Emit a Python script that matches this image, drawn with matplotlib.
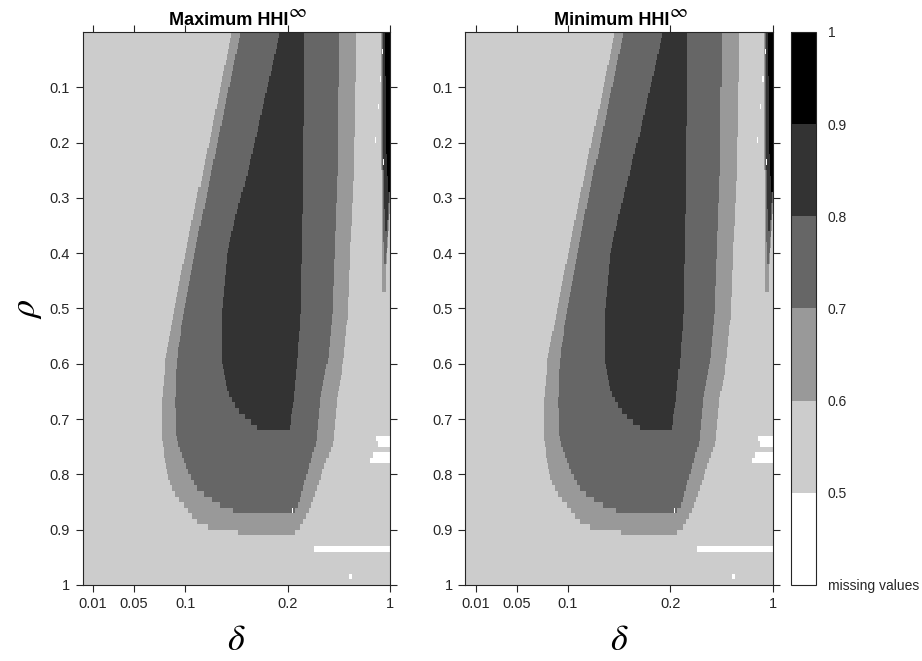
import numpy as np
import matplotlib.pyplot as plt
from matplotlib.colors import ListedColormap, BoundaryNorm
from matplotlib.cm import ScalarMappable
from matplotlib.path import Path

plt.rcParams['font.family'] = ['Liberation Sans', 'DejaVu Sans']
plt.rcParams['mathtext.fontset'] = 'stix'
plt.rcParams['font.size'] = 10

# grid: 300 delta columns x 100 rho rows
n_delta = 300
n_rho = 100
delta_tick_pos = [10, 50, 100, 200, 300]
delta_tick_labels = ['0.01', '0.05', '0.1', '0.2', '1']
rho_ticks = [0.1, 0.2, 0.3, 0.4, 0.5, 0.6, 0.7, 0.8, 0.9, 1.0]
rho_tick_labels = ['0.1', '0.2', '0.3', '0.4', '0.5', '0.6', '0.7', '0.8', '0.9', '1']

# HHI bins and their grays
levels = [0.4, 0.5, 0.6, 0.7, 0.8, 0.9, 1.0]
grays = ['#ffffff', '#cccccc', '#999999', '#666666', '#333333', '#000000']
level_labels = ['missing values', '0.5', '0.6', '0.7', '0.8', '0.9', '1']
background_value = 0.55

# region outlines (delta column, rho), left edge top->bottom, right edge top->bottom
hhi06_left = [(145.8, 0.0), (116.4, 0.26), (101.8, 0.385), (88.1, 0.51), (80.5, 0.593),
              (77.3, 0.665), (77.3, 0.74), (82.2, 0.798), (87.1, 0.828), (100.1, 0.858),
              (109.9, 0.882), (119.7, 0.894), (136.0, 0.90), (168.6, 0.91)]
hhi06_right = [(267.4, 0.0), (264.8, 0.26), (261.5, 0.385), (258.8, 0.51), (254.4, 0.593),
               (248.5, 0.665), (244.7, 0.74), (233.9, 0.798), (229.0, 0.828), (222.4, 0.858),
               (215.9, 0.882), (211.0, 0.897), (204.5, 0.91)]
hhi07_left = [(154.6, 0.0), (125.7, 0.25), (110.9, 0.385), (98.4, 0.51), (92.0, 0.593),
              (90.3, 0.665), (91.6, 0.74), (103.3, 0.798), (113.1, 0.828), (136.0, 0.858),
              (155.6, 0.87)]
hhi07_right = [(250.1, 0.0), (248.5, 0.26), (245.9, 0.385), (243.6, 0.51), (239.3, 0.593),
               (232.2, 0.665), (228.3, 0.74), (219.2, 0.798), (214.3, 0.828), (209.4, 0.858),
               (204.5, 0.87)]
hhi08_left = [(193.1, 0.0), (160.0, 0.26), (142.5, 0.385), (136.0, 0.51), (136.0, 0.593),
              (140.9, 0.647), (145.8, 0.665), (152.3, 0.684), (162.0, 0.702), (170.2, 0.714),
              (171.8, 0.72)]
hhi08_right = [(215.9, 0.0), (215.3, 0.26), (213.9, 0.385), (212.6, 0.51), (209.4, 0.593),
               (206.0, 0.665), (204.5, 0.684), (201.2, 0.72)]

# thin ridge near delta = 1
ridge06_left = [(290.5, 0.0), (291.5, 0.25), (292.0, 0.40), (292.5, 0.47)]
ridge06_right = [(300.5, 0.0), (300.5, 0.30), (297.0, 0.40), (295.5, 0.47)]
ridge07_left = [(291.5, 0.0), (292.5, 0.25), (293.5, 0.38), (294.5, 0.42)]
ridge07_right = [(300.5, 0.0), (300.5, 0.28), (298.0, 0.36), (296.0, 0.42)]
ridge08_left = [(293.0, 0.0), (293.5, 0.25), (295.0, 0.36)]
ridge08_right = [(300.5, 0.0), (300.5, 0.25), (297.0, 0.36)]
ridge09_left = [(295.2, 0.0), (296.0, 0.20), (298.2, 0.29)]
ridge09_right = [(300.5, 0.0), (300.5, 0.29)]

regions = [
    (0.65, hhi06_left, hhi06_right),
    (0.75, hhi07_left, hhi07_right),
    (0.85, hhi08_left, hhi08_right),
    (0.65, ridge06_left, ridge06_right),
    (0.75, ridge07_left, ridge07_right),
    (0.85, ridge08_left, ridge08_right),
    (0.95, ridge09_left, ridge09_right),
]

# cells without a value: (rho from, rho to, delta col from, delta col to)
missing_cells = [
    (0.93, 0.94, 226, 300),
    (0.98, 0.99, 260, 263),
    (0.73, 0.74, 286, 300),
    (0.74, 0.75, 288, 300),
    (0.76, 0.77, 283, 300),
    (0.77, 0.78, 280, 300),
    (0.86, 0.87, 204, 205),
    (0.03, 0.04, 292, 293),
    (0.08, 0.09, 290, 291),
    (0.13, 0.14, 288, 289),
    (0.19, 0.20, 285, 286),
    (0.23, 0.24, 293, 294),
]


def build_grid():
    u_edges = np.arange(n_delta + 1)
    r_edges = np.linspace(0, 1, n_rho + 1)
    uc = 0.5 * (u_edges[:-1] + u_edges[1:])
    rc = 0.5 * (r_edges[:-1] + r_edges[1:])
    uu, rr = np.meshgrid(uc, rc)
    pts = np.column_stack([uu.ravel(), rr.ravel()])
    z = np.full(uu.shape, background_value)
    for value, left, right in regions:
        poly = left + right[::-1]
        inside = Path(poly).contains_points(pts).reshape(uu.shape)
        z[inside] = value
    for r0, r1, u0, u1 in missing_cells:
        z[(rr > r0) & (rr < r1) & (uu > u0) & (uu < u1)] = np.nan
    return u_edges, r_edges, np.ma.masked_invalid(z)


cmap = ListedColormap(grays)
cmap.set_bad('white')
norm = BoundaryNorm(levels, cmap.N)

u_edges, r_edges, hhi_max = build_grid()
hhi_min = hhi_max.copy()

fig = plt.figure(figsize=(9.22, 6.61), dpi=100)
ax1 = fig.add_axes([0.0897, 0.115, 0.3333, 0.8366])
ax2 = fig.add_axes([0.5048, 0.115, 0.3333, 0.8366])
cax = fig.add_axes([0.8575, 0.115, 0.028, 0.8366])

for ax, z, title in [(ax1, hhi_max, 'Maximum HHI'),
                     (ax2, hhi_min, 'Minimum HHI')]:
    ax.pcolormesh(u_edges, r_edges, z, cmap=cmap, norm=norm)
    ax.set_xlim(0, n_delta)
    ax.set_ylim(1, 0)
    ax.set_xticks(delta_tick_pos)
    ax.set_xticklabels(delta_tick_labels)
    ax.set_yticks(rho_ticks)
    ax.set_yticklabels(rho_tick_labels)
    ax.tick_params(direction='out', length=5, width=0.8, top=True, right=True,
                   colors='#262626', labelcolor='#262626', labelsize=10.5, pad=4)
    for s in ax.spines.values():
        s.set_color('#262626')
        s.set_linewidth(0.8)
    # bold title with a raised infinity sign
    t = ax.text(0.475, 1.0125, title, transform=ax.transAxes, ha='center', va='baseline',
                fontsize=13, fontweight='bold')
    ax.annotate(r'$\infty$', xy=(1, 1), xycoords=t, xytext=(0, -0.5),
                textcoords='offset points', ha='left', va='center', fontsize=14)
    ax.set_xlabel(r'$\delta$', fontsize=26, labelpad=8)

ax1.set_ylabel(r'$\rho$', fontsize=26, labelpad=4)

cb = fig.colorbar(ScalarMappable(norm=norm, cmap=cmap), cax=cax)
cb.set_ticks(levels)
cb.set_ticklabels(level_labels)
cb.ax.tick_params(length=0, labelsize=10, pad=8, labelcolor='#262626')
cb.outline.set_linewidth(0.8)
cb.outline.set_edgecolor('#262626')

fig.savefig('out.png', dpi=100)
